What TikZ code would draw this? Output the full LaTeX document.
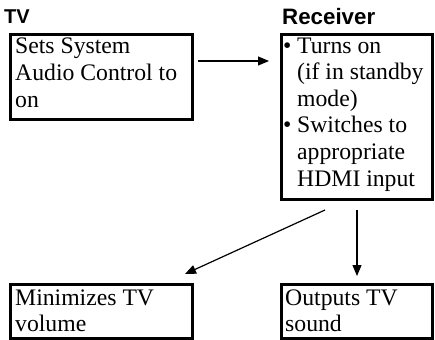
\documentclass[tikz,border=0pt]{standalone}
\usepackage{fontspec}
\setmainfont{Liberation Serif}
\newfontfamily\headfont{Liberation Sans}
\usetikzlibrary{arrows.meta}
\tikzset{
  boxline/.style={draw=black, line width=3pt, inner sep=0pt, anchor=north west},
  boxtext/.style={anchor=base west, inner sep=0pt, align=left, font=\fontsize{23.7}{26.6}\selectfont},
  headtxt/.style={anchor=base west, inner sep=0pt, font=\headfont\bfseries},
  arr/.style={line width=1.2pt, -{Triangle[length=11pt,width=9pt]}}
}
\begin{document}
\begin{tikzpicture}[x=1pt,y=-1pt]
\useasboundingbox (0,0) rectangle (435,339);
% headings
\node[headtxt, font=\headfont\bfseries\fontsize{20}{22}\selectfont] (tvh) at (4,23.5) {TV};
\node[headtxt, font=\headfont\bfseries\fontsize{22.3}{24}\selectfont] (rch) at (282,25) {Receiver};
% boxes
\node[boxline, minimum width=182pt, minimum height=85pt] (tvbox) at (9,33) {};
\node[boxline, minimum width=151pt, minimum height=165pt] (rcbox) at (280,33) {};
\node[boxline, minimum width=182pt, minimum height=54pt] (mnbox) at (9,283) {};
\node[boxline, minimum width=151pt, minimum height=54pt] (otbox) at (280,283) {};
% texts (anchored at the baseline of their last line)
\node[boxtext] (tvtxt) at (15,107.2) {Sets System\\Audio Control to\\on};
\node[boxtext] (rctxt) at (283,186) {\makebox[14pt][l]{\textbullet}Turns on\\
\hspace*{14pt}(if in standby\\
\hspace*{14pt}mode)\\
\makebox[14pt][l]{\textbullet}Switches to\\
\hspace*{14pt}appropriate\\
\hspace*{14pt}HDMI input};
\node[boxtext] (mntxt) at (15,331.6) {Minimizes TV\\volume};
\node[boxtext] (ottxt) at (285,331.6) {Outputs TV\\sound};
% connector ends
\coordinate (a1s) at (198,61);
\coordinate (a1e) at (269,61);
\coordinate (a2s) at (325,210);
\coordinate (a2e) at (185,274);
\coordinate (a3s) at (357,210);
\coordinate (a3e) at (357,276);
\draw[arr] (a1s) -- (a1e);
\draw[arr] (a2s) -- (a2e);
\draw[arr] (a3s) -- (a3e);
\end{tikzpicture}
\end{document}
